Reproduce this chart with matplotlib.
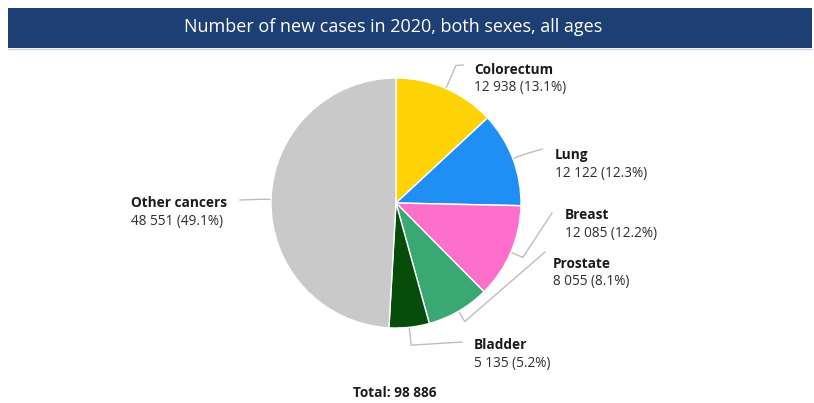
import numpy as np
import matplotlib.pyplot as plt
from matplotlib.patches import Rectangle

plt.rcParams['font.family'] = ['Open Sans', 'DejaVu Sans']

# new cancer cases, 2020, both sexes, all ages
sites = ['Colorectum', 'Lung', 'Breast', 'Prostate', 'Bladder', 'Other cancers']
cases = [12938, 12122, 12085, 8055, 5135, 48551]
shares = [13.1, 12.3, 12.2, 8.1, 5.2, 49.1]
colours = ['#fdd306', '#1f8ff5', '#fd6fcb', '#3aa872', '#074c0b', '#c9c9c9']
total = 98886

W, H = 814, 403
# label anchor (left edge, centre of name line) and where the leader line ends, in pixels
label_xy = [(474, 70), (555, 155), (565, 215), (553, 264), (474, 345), (131, 203)]
line_end = [(463, 65), (542, 149), (552, 213), (545, 252), (462, 342), (240, 200)]
elbow_len = [25, 10, 13, 12, 18, 8]
cx, cy, r = 396, 203, 125


def fmt(n):
    return '{:,}'.format(n).replace(',', ' ')


def py(y):
    # pixel row -> data y (origin at bottom)
    return H - y


fig = plt.figure(figsize=(W / 100, H / 100), dpi=100)
ax = fig.add_axes([0, 0, 1, 1])

wedges, _ = ax.pie(cases, colors=colours, startangle=90, counterclock=False,
                   center=(cx, py(cy)), radius=r,
                   wedgeprops=dict(edgecolor='white', linewidth=1.0))
ax.set_xlim(0, W)
ax.set_ylim(0, H)
ax.set_aspect('auto')
ax.axis('off')

# title banner
ax.add_patch(Rectangle((8, py(48)), 804, 40, facecolor='#1e3f73', edgecolor='none'))
ax.plot([8, 812], [py(49), py(49)], color='#c7d6e6', lw=1)
ax.text(393, py(27), 'Number of new cases in 2020, both sexes, all ages',
        color='white', fontsize=13, ha='center', va='center')

for w, name, n, pct, (lx, ly), (ex, ey), d in zip(wedges, sites, cases, shares,
                                                  label_xy, line_end, elbow_len):
    mid = np.deg2rad((w.theta1 + w.theta2) / 2)
    ux, uy = np.cos(mid), np.sin(mid)
    ax0, ay0 = cx + r * ux, py(cy) + r * uy
    bx, by = ax0 + d * ux, ay0 + d * uy
    ax.plot([ax0, bx, ex], [ay0, by, py(ey)], color='#bdbdbd', lw=1,
            solid_joinstyle='round', zorder=0)
    ax.text(lx, py(ly), name, fontsize=9.8, fontweight='bold', color='#1a1a1a',
            ha='left', va='center')
    ax.text(lx, py(ly + 18), '{} ({}%)'.format(fmt(n), pct), fontsize=9.8,
            color='#2e2e2e', ha='left', va='center')

ax.text(395, py(393), 'Total: {}'.format(fmt(total)), fontsize=9.8,
        fontweight='bold', color='#1a1a1a', ha='center', va='center')

fig.savefig('out.png', dpi=100, facecolor='white')
